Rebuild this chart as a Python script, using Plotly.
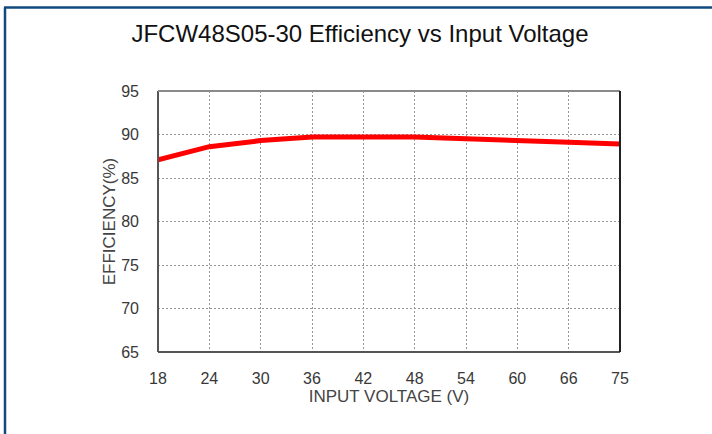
import plotly.graph_objects as go

# Data
voltages = ["18", "24", "30", "36", "42", "48", "54", "60", "66", "75"]
efficiency = [87.1, 88.6, 89.3, 89.7, 89.7, 89.7, 89.5, 89.35, 89.1, 88.9]
y_ticks = [65, 70, 75, 80, 85, 90, 95]

W, H = 712, 434
L, R, T, B = 158, 620, 91, 352
pw, ph = R - L, B - T

def px(xp):
    return (xp - L) / pw

def py(yp):
    return (B - yp) / ph

FONT = "Liberation Sans, Arial, sans-serif"

fig = go.Figure()
fig.add_trace(go.Scatter(
    x=voltages, y=efficiency, mode="lines",
    line=dict(color="#ff0000", width=5),
    showlegend=False, hoverinfo="skip",
))

fig.update_layout(
    width=W, height=H,
    margin=dict(l=L, r=W - R, t=T, b=H - B, pad=0),
    paper_bgcolor="white", plot_bgcolor="white",
    title=dict(
        text="JFCW48S05-30 Efficiency vs Input Voltage",
        font=dict(family=FONT, size=24, color="#111111"),
        x=360 / W, xanchor="center", xref="container",
        y=1 - 34 / H, yanchor="middle", yref="container",
    ),
    xaxis=dict(
        type="category", range=[0, len(voltages) - 1],
        tickvals=voltages, ticktext=voltages,
        showgrid=True, gridcolor="#999999", griddash="2px,2px", gridwidth=1,
        showline=False, zeroline=False, ticks="",
        tickfont=dict(family=FONT, size=16, color="#383838"),
        ticklabelstandoff=15,
        title=dict(text="INPUT VOLTAGE (V)", font=dict(family=FONT, size=17, color="#444444"), standoff=4),
    ),
    yaxis=dict(
        range=[65, 95], tickvals=y_ticks,
        showgrid=True, gridcolor="#999999", griddash="2px,2px", gridwidth=1,
        showline=False, zeroline=False, ticks="",
        tickfont=dict(family=FONT, size=16, color="#383838"),
        ticklabelstandoff=18,
        title=dict(text="EFFICIENCY(%)", font=dict(family=FONT, size=17, color="#444444"), standoff=1),
    ),
)

# Plot frame
frame = [
    (0, 0, 0, 1, "#555555"),   # left
    (0, 0, 1, 0, "#555555"),   # bottom
    (0, 1, 1, 1, "#8a8a8a"),   # top
    (1, 0, 1, 1, "#222222"),   # right
]
for x0, y0, x1, y1, c in frame:
    fig.add_shape(type="line", xref="paper", yref="paper", x0=x0, y0=y0, x1=x1, y1=y1,
                  line=dict(color=c, width=2), layer="above")

# Outer blue border (left and top visible)
BC = "#114a7e"
fig.add_shape(type="line", xref="paper", yref="paper",
              x0=px(5), y0=py(7.5), x1=px(5), y1=py(H + 5), line=dict(color=BC, width=2.5))
fig.add_shape(type="line", xref="paper", yref="paper",
              x0=px(4), y0=py(7.5), x1=px(W + 5), y1=py(7.5), line=dict(color=BC, width=2.5))

fig.write_html(
    "out.html",
    config={"displayModeBar": False, "staticPlot": True},
    post_script="document.body.style.margin='0';document.body.style.overflow='hidden';",
)
